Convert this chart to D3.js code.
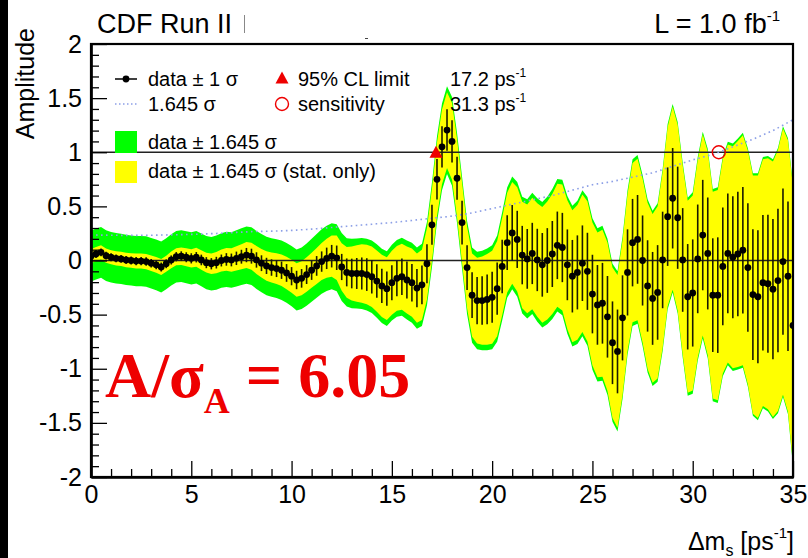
<!DOCTYPE html>
<html><head><meta charset="utf-8">
<script src="https://cdn.jsdelivr.net/npm/d3@7"></script>
<style>
body{margin:0;background:#fff}
svg{display:block}
text{font-family:"Liberation Sans",Arial,Helvetica,sans-serif;fill:#000}
text.serif{font-family:"Liberation Serif","Times New Roman",serif;font-weight:bold;fill:#ee0000}
</style>
</head><body>
<svg id="c" width="808" height="558"></svg>
<script>
// ---------- data ----------
const dms = [0,0.25,0.5,0.75,1,1.25,1.5,1.75,2,2.25,2.5,2.75,3,3.25,3.5,3.75,4,4.25,4.5,4.75,
5,5.25,5.5,5.75,6,6.25,6.5,6.75,7,7.25,7.5,7.75,8,8.25,8.5,8.75,9,9.25,9.5,9.75,
10,10.25,10.5,10.75,11,11.25,11.5,11.75,12,12.25,12.5,12.75,13,13.25,13.5,13.75,14,14.25,14.5,14.75,
15,15.25,15.5,15.75,16,16.25,16.5,16.75,17,17.25,17.5,17.75,18,18.25,18.5,18.75,19,19.25,19.5,19.75,
20,20.25,20.5,20.75,21,21.25,21.5,21.75,22,22.25,22.5,22.75,23,23.25,23.5,23.75,24,24.25,24.5,24.75,
25,25.25,25.5,25.75,26,26.25,26.5,26.75,27,27.25,27.5,27.75,28,28.25,28.5,28.75,29,29.25,29.5,29.75,
30,30.25,30.5,30.75,31,31.25,31.5,31.75,32,32.25,32.5,32.75,33,33.25,33.5,33.75,34,34.25,34.5,34.75,35];

const amp = [
0.04,0.06,0.075,0.045, 0.03,0.02,0.015,0.005, 0,-0.005,-0.005,-0.01, -0.025,-0.04,-0.06,-0.03,
0.005,0.035,0.04,0.03, 0.02,0.03,0.005,-0.02, -0.03,-0.02,0,0.01, 0.005,0.02,0.035,0.05,
0.04,0.005,-0.025,-0.05, -0.065,-0.075,-0.09,-0.115, -0.145,-0.18,-0.165,-0.13, -0.09,-0.05,-0.01,0.02,
0.04,0.025,-0.06,-0.11, -0.12,-0.12,-0.12,-0.13, -0.15,-0.19,-0.235,-0.26, -0.205,-0.165,-0.15,-0.18,
-0.205,-0.255,-0.225,-0.03, 0.33,0.75,1.05,1.205, 1.10,0.76,0.35,-0.065, -0.32,-0.37,-0.37,-0.36,
-0.34,-0.26,-0.055,0.165, 0.255,0.195,0.05,0.015, 0.065,0.005,-0.04,0, 0.06,0.14,0.12,-0.04,
-0.145,-0.11,-0.025,-0.10, -0.31,-0.41,-0.395,-0.52, -0.76,-0.84,-0.53,-0.11, 0.165,0.195,0,-0.235,
-0.35,-0.295,0.005,0.405, 0.575,0.395,0.005,-0.335, -0.30,0.015,0.235,0.065, -0.32,-0.32,-0.055,0.065,
0.03,0.06,0.095,-0.065, -0.315,-0.335,-0.205,-0.215, -0.265,-0.185,-0.01,-0.145, -0.60];

// +-1 sigma error bar half-length
const err = [
0.036,0.036,0.036,0.036,0.036,0.036,0.036,0.037,0.037,
0.038,0.038,0.039,0.040,0.040,0.041,0.041,0.042,
0.043,0.045,0.046,0.047,0.048,0.049,0.051,0.052,
0.054,0.055,0.058,0.059,0.062,0.064,0.066,0.069,
0.071,0.073,0.075,0.076,0.078,0.080,0.082,0.084,
0.085,0.086,0.087,0.089,0.091,0.094,0.099,0.104,
0.113,0.121,0.129,0.137,0.143,0.148,0.151,0.154,
0.155,0.158,0.159,0.162,0.165,0.168,0.170,0.173,
0.176,0.179,0.181,0.184,0.187,0.190,0.192,0.195,
0.199,0.203,0.207,0.212,0.218,0.224,0.230,0.236,
0.242,0.247,0.253,0.258,0.264,0.270,0.276,0.283,
0.288,0.294,0.299,0.305,0.312,0.320,0.327,0.335,
0.342,0.349,0.356,0.363,0.368,0.373,0.377,0.382,
0.387,0.393,0.398,0.404,0.410,0.416,0.422,0.429,
0.437,0.446,0.455,0.464,0.472,0.479,0.487,0.495,
0.502,0.510,0.517,0.525,0.534,0.544,0.553,0.563,
0.574,0.584,0.594,0.604,0.615,0.626,0.637,0.648,
0.662,0.676,0.690,0.703];

// 1.645 sigma (stat. only) half-width: yellow band
const statBand = [
0.065,0.065,0.065,0.065,0.065,0.066,0.066,0.067,0.068,
0.069,0.070,0.071,0.072,0.073,0.074,0.075,0.077,
0.079,0.081,0.083,0.085,0.087,0.090,0.092,0.095,
0.098,0.101,0.105,0.108,0.112,0.116,0.120,0.125,
0.129,0.132,0.136,0.139,0.142,0.146,0.150,0.153,
0.155,0.157,0.159,0.162,0.166,0.171,0.180,0.190,
0.205,0.220,0.235,0.250,0.260,0.270,0.275,0.280,
0.283,0.287,0.290,0.295,0.300,0.305,0.310,0.315,
0.320,0.325,0.330,0.335,0.340,0.345,0.350,0.355,
0.362,0.370,0.377,0.385,0.396,0.408,0.419,0.430,
0.440,0.450,0.460,0.470,0.481,0.492,0.503,0.515,
0.525,0.535,0.545,0.555,0.568,0.582,0.596,0.610,
0.623,0.635,0.648,0.660,0.669,0.678,0.686,0.695,
0.705,0.715,0.725,0.735,0.746,0.757,0.768,0.780,
0.796,0.812,0.828,0.845,0.859,0.872,0.886,0.900,
0.914,0.928,0.941,0.955,0.972,0.990,1.007,1.025,
1.044,1.062,1.081,1.100,1.120,1.140,1.160,1.180,
1.205,1.230,1.255,1.280];

// 1.645 sigma (total): green band and dotted line
const totBand = [
0.235,0.235,0.234,0.234,0.233,0.233,0.232,0.232,0.232,
0.232,0.232,0.233,0.233,0.234,0.235,0.236,0.237,
0.238,0.239,0.240,0.241,0.242,0.244,0.246,0.248,
0.250,0.252,0.255,0.257,0.260,0.262,0.264,0.267,
0.268,0.269,0.270,0.271,0.272,0.274,0.276,0.278,
0.281,0.284,0.287,0.290,0.294,0.298,0.301,0.305,
0.309,0.313,0.316,0.320,0.324,0.328,0.331,0.335,
0.339,0.343,0.346,0.350,0.355,0.360,0.365,0.370,
0.375,0.380,0.385,0.390,0.395,0.400,0.405,0.410,
0.417,0.424,0.431,0.440,0.450,0.460,0.470,0.480,
0.490,0.500,0.510,0.520,0.530,0.540,0.550,0.560,
0.570,0.580,0.590,0.600,0.612,0.625,0.637,0.650,
0.662,0.675,0.687,0.700,0.708,0.715,0.722,0.730,
0.740,0.750,0.760,0.770,0.780,0.790,0.800,0.810,
0.825,0.840,0.855,0.870,0.885,0.900,0.915,0.930,
0.942,0.955,0.967,0.980,0.997,1.015,1.032,1.050,
1.067,1.085,1.102,1.120,1.140,1.160,1.180,1.200,
1.225,1.250,1.275,1.300];

const xMajorTicks = [0,5,10,15,20,25,30,35];
const xTickLabels = ["0","5","10","15","20","25","30","35"];
const xMinorTicks = [1,2,3,4,6,7,8,9,11,12,13,14,16,17,18,19,21,22,23,24,26,27,28,29,31,32,33,34];
const yMajorTicks = [-2,-1.5,-1,-0.5,0,0.5,1,1.5,2];
const yTickLabels = ["-2","-1.5","-1","-0.5","0","0.5","1","1.5","2"];
const yMinorTicks = [-1.9,-1.8,-1.7,-1.6,-1.4,-1.3,-1.2,-1.1,-0.9,-0.8,-0.7,-0.6,-0.4,-0.3,-0.2,-0.1,
  0.1,0.2,0.3,0.4,0.6,0.7,0.8,0.9,1.1,1.2,1.3,1.4,1.6,1.7,1.8,1.9];
const refLines = [0, 1];
const limitPoint = {dm: 17.2, a: 1.0};
const sensPoint = {dm: 31.3, a: 1.0};

// ---------- layout ----------
const svg = d3.select("#c");
const L = 91, R = 793, T = 44, B = 477;
const x = d3.scaleLinear().domain([0, 35]).range([L, R]);
const y = d3.scaleLinear().domain([-2, 2]).range([B, T]);

const rows = dms.map((d, i) => ({dm: d, a: amp[i], e: err[i], s: statBand[i], t: totBand[i]}));

// black strip at left
svg.append("rect").attr("x", 0).attr("y", 0).attr("width", 8).attr("height", 558).attr("fill", "#000");

svg.append("clipPath").attr("id", "plotclip").append("rect")
  .attr("x", L).attr("y", T).attr("width", R - L).attr("height", B - T);
const g = svg.append("g").attr("clip-path", "url(#plotclip)");

const greenArea = d3.area().x(d => x(d.dm)).y0(d => y(d.a - d.t)).y1(d => y(d.a + d.t));
const yellowArea = d3.area().x(d => x(d.dm)).y0(d => y(d.a - d.s)).y1(d => y(d.a + d.s));
g.append("path").datum(rows).attr("d", greenArea).attr("fill", "#00ff00");
g.append("path").datum(rows).attr("d", yellowArea).attr("fill", "#ffff00");

// reference lines
g.selectAll("line.ref").data(refLines).join("line")
  .attr("x1", L).attr("x2", R).attr("y1", d => y(d)).attr("y2", d => y(d))
  .attr("stroke", "#222").attr("stroke-width", 1.5);

// dotted 1.645 sigma line
g.append("path").datum(rows)
  .attr("d", d3.line().x(d => x(d.dm)).y(d => y(d.t)))
  .attr("fill", "none").attr("stroke", "#8c9fe6").attr("stroke-width", 1.6)
  .attr("stroke-dasharray", "1.6,3.4");

// error bars
g.selectAll("line.eb").data(rows).join("line")
  .attr("x1", d => x(d.dm)).attr("x2", d => x(d.dm))
  .attr("y1", d => y(d.a - d.e)).attr("y2", d => y(d.a + d.e))
  .attr("stroke", "#1a1a00").attr("stroke-width", 1.6);
// points
g.selectAll("circle.pt").data(rows).join("circle")
  .attr("cx", d => x(d.dm)).attr("cy", d => y(d.a)).attr("r", 3.4).attr("fill", "#000");

// limit triangle & sensitivity circle
function tri(cx, cy, w, h) {
  return `M${cx},${cy - h * 0.55}L${cx + w / 2},${cy + h * 0.45}L${cx - w / 2},${cy + h * 0.45}Z`;
}
svg.append("path").attr("d", tri(x(limitPoint.dm), y(limitPoint.a), 13, 12)).attr("fill", "#ee0000");
svg.append("circle").attr("cx", x(sensPoint.dm)).attr("cy", y(sensPoint.a)).attr("r", 6.5)
  .attr("fill", "none").attr("stroke", "#ee0000").attr("stroke-width", 1.4);

// ---------- axes ----------
const axFont = 25;
const xAxis = svg.append("g").attr("transform", `translate(0,${B})`)
  .call(d3.axisBottom(x).tickValues(xMajorTicks).tickFormat((d, i) => xTickLabels[i])
    .tickSize(-16).tickSizeOuter(0).tickPadding(8));
const xMinor = svg.append("g").attr("transform", `translate(0,${B})`)
  .call(d3.axisBottom(x).tickValues(xMinorTicks).tickFormat("").tickSize(-8).tickSizeOuter(0));
const yAxis = svg.append("g").attr("transform", `translate(${L},0)`)
  .call(d3.axisLeft(y).tickValues(yMajorTicks).tickFormat((d, i) => yTickLabels[i])
    .tickSize(-16).tickSizeOuter(0).tickPadding(9));
const yMinor = svg.append("g").attr("transform", `translate(${L},0)`)
  .call(d3.axisLeft(y).tickValues(yMinorTicks).tickFormat("").tickSize(-8).tickSizeOuter(0));
[xAxis, xMinor, yAxis, yMinor].forEach(a => {
  a.selectAll("path.domain").attr("stroke", "#000").attr("stroke-width", 2.2);
  a.selectAll(".tick line").attr("stroke", "#000").attr("stroke-width", 1.3);
  a.selectAll("text").attr("font-size", axFont).attr("font-family", '"Liberation Sans",Arial,sans-serif').attr("fill", "#000");
});

// frame
svg.append("rect").attr("x", L).attr("y", T).attr("width", R - L).attr("height", B - T)
  .attr("fill", "none").attr("stroke", "#000").attr("stroke-width", 2.2);

// ---------- texts ----------
svg.append("text").attr("x", 97).attr("y", 33).attr("font-size", 27).text("CDF Run II");
svg.append("line").attr("x1", 244.5).attr("x2", 244.5).attr("y1", 15).attr("y2", 33)
  .attr("stroke", "#888").attr("stroke-width", 1);
svg.append("line").attr("x1", 365).attr("x2", 368).attr("y1", 38.5).attr("y2", 38.5)
  .attr("stroke", "#444").attr("stroke-width", 1);

const lum = svg.append("text").attr("x", 780).attr("y", 33).attr("font-size", 27).attr("text-anchor", "end");
lum.append("tspan").text("L = 1.0 fb");
lum.append("tspan").attr("font-size", 15).attr("dy", -12).text("-1");

// y title
svg.append("text").attr("transform", "translate(34,28) rotate(-90)").attr("text-anchor", "end")
  .attr("font-size", 25).text("Amplitude");

// x title
const xt = svg.append("text").attr("x", 794).attr("y", 550).attr("font-size", 25).attr("text-anchor", "end");
xt.append("tspan").text("Δm");
xt.append("tspan").attr("font-size", 16).attr("dy", 6).text("s");
xt.append("tspan").attr("dy", -6).text(" [ps");
xt.append("tspan").attr("font-size", 15).attr("dy", -12).text("-1");
xt.append("tspan").attr("dy", 12).text("]");

// legend
const lf = 20;
svg.append("line").attr("x1", 115).attr("x2", 137).attr("y1", 79).attr("y2", 79).attr("stroke", "#000").attr("stroke-width", 1.5);
svg.append("circle").attr("cx", 126).attr("cy", 79).attr("r", 3.4).attr("fill", "#000");
svg.append("text").attr("x", 148).attr("y", 86).attr("font-size", lf).text("data ± 1 σ");

svg.append("line").attr("x1", 115).attr("x2", 137).attr("y1", 104).attr("y2", 104)
  .attr("stroke", "#8c9fe6").attr("stroke-width", 1.4).attr("stroke-dasharray", "1.5,2.5");
svg.append("text").attr("x", 148).attr("y", 111).attr("font-size", lf).text("1.645 σ");

svg.append("rect").attr("x", 115).attr("y", 131).attr("width", 22).attr("height", 22).attr("fill", "#00ff00");
svg.append("text").attr("x", 148).attr("y", 149).attr("font-size", lf).text("data ± 1.645 σ");
svg.append("rect").attr("x", 115).attr("y", 161).attr("width", 22).attr("height", 22).attr("fill", "#ffff00");
svg.append("text").attr("x", 148).attr("y", 178).attr("font-size", lf).text("data ± 1.645 σ (stat. only)");

svg.append("path").attr("d", tri(282, 78, 13, 12)).attr("fill", "#ee0000");
svg.append("text").attr("x", 298).attr("y", 86).attr("font-size", lf).text("95% CL limit");
svg.append("circle").attr("cx", 282).attr("cy", 104).attr("r", 6.5).attr("fill", "none")
  .attr("stroke", "#ee0000").attr("stroke-width", 1.4);
svg.append("text").attr("x", 298).attr("y", 111).attr("font-size", lf).text("sensitivity");

const l1 = svg.append("text").attr("x", 450).attr("y", 86).attr("font-size", lf);
l1.append("tspan").text("17.2 ps");
l1.append("tspan").attr("font-size", 12).attr("dy", -9).text("-1");
const l2 = svg.append("text").attr("x", 450).attr("y", 111).attr("font-size", lf);
l2.append("tspan").text("31.3 ps");
l2.append("tspan").attr("font-size", 12).attr("dy", -9).text("-1");

// big red annotation
const big = svg.append("text").attr("class", "serif").attr("x", 105).attr("y", 397)
  .attr("font-size", 64);
big.append("tspan").text("A/σ");
big.append("tspan").attr("font-size", 36).attr("dy", 16).text("A");
big.append("tspan").attr("dy", -16).text(" = 6.05");
</script>
</body></html>
